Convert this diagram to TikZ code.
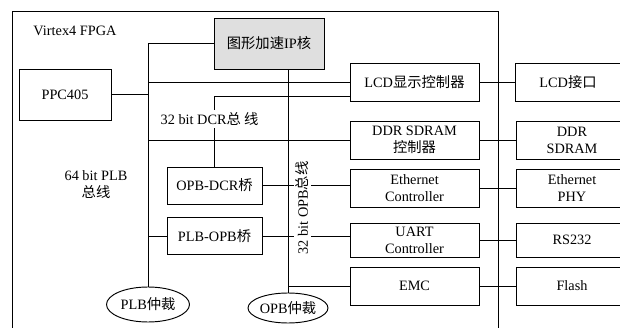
\documentclass[tikz,border=0pt]{standalone}
\usepackage{fontspec}
\setmainfont{Liberation Serif}
\newfontfamily\cjk{Noto Sans CJK SC}
\usetikzlibrary{shapes.geometric}
\begin{document}
\begin{tikzpicture}[x=1pt,y=-1pt,line width=0.95pt,
  font=\fontsize{14.3}{17}\selectfont,
  box/.style={draw,rectangle,inner sep=1pt,align=center,minimum width=129pt,minimum height=38pt},
  bridge/.style={draw,rectangle,inner sep=1pt,align=center,minimum width=95pt,minimum height=37pt},
  extbox/.style={draw,rectangle,inner sep=0pt,anchor=west,minimum width=114pt,minimum height=38pt},
  arb/.style={draw,ellipse,inner sep=0pt,align=center},
  lbl/.style={fill=white,inner sep=2pt,align=center}]
\useasboundingbox (0,0) rectangle (620,328);
% FPGA frame
\draw (12,340) |- (498,11) -- (498,340);
\node[anchor=west,inner sep=2pt] (fpgalbl) at (31,31) {Virtex4 FPGA};
% main blocks
\node[draw,fill=gray!25,minimum width=110pt,minimum height=51pt,inner sep=1pt] (ip) at (269,43.5) {{\cjk 图形加速}IP{\cjk 核}};
\node[draw,minimum width=92pt,minimum height=51pt,inner sep=1pt] (ppc) at (65,94.5) {PPC405};
\node[box] (lcdc) at (414.5,82) {LCD{\cjk 显示控制器}};
\node[box] (ddrc) at (414.5,140) {DDR SDRAM\\{\cjk 控制器}};
\node[box] (ethc) at (414.5,188) {Ethernet\\Controller};
\node[box,minimum height=34pt] (uart) at (414.5,240) {UART\\Controller};
\node[box] (emc) at (414.5,286) {EMC};
\node[bridge] (opbdcr) at (214.5,185.5) {OPB-DCR{\cjk 桥}};
\node[bridge] (plbopb) at (214.5,236) {PLB-OPB{\cjk 桥}};
\node[arb,minimum width=83pt,minimum height=35pt] (plbarb) at (148,304.5) {PLB{\cjk 仲裁}};
\node[arb,minimum width=80pt,minimum height=30pt] (opbarb) at (288,308) {OPB{\cjk 仲裁}};
% external boxes
\node[extbox] (lcdi) at (515,82) {};
\node (lcdit) at (568,82) {LCD{\cjk 接口}};
\node[extbox] (ddr) at (516,140) {};
\node[align=center] (ddrt) at (572,140) {DDR\\SDRAM};
\node[extbox] (phy) at (516,188) {};
\node[align=center] (phyt) at (572,188) {Ethernet\\PHY};
\node[extbox,minimum height=34pt] (rs) at (516,240) {};
\node (rst) at (572,240) {RS232};
\node[extbox] (flash) at (516,286) {};
\node (flasht) at (572,286) {Flash};
% PLB bus
\coordinate (plbtop) at (148,43.5);
\draw (ip.west) -- (plbtop) -- (plbarb.north);
\draw (ppc.east) -- (ppc.east -| plbtop);
\draw (lcdc.west) -- (lcdc.west -| plbtop);
\draw (ddrc.west) -- (ddrc.west -| plbtop);
\draw (plbopb.west -| plbtop) -- (plbopb.west);
% DCR bus
\draw ([yshift=-14pt]lcdc.west) -| (opbdcr.north);
\node[lbl] (dcrlbl) at (209.5,119) {32 bit DCR{\cjk 总 线}};
% OPB bus
\draw (ip.south -| opbarb.north) -- (opbarb.north);
\draw (opbdcr.east) -- (opbdcr.east -| ethc.west);
\draw (plbopb.east) -- (plbopb.east -| uart.west);
\draw (emc.west -| opbarb.north) -- (emc.west);
\node[lbl,rotate=90,inner sep=1.5pt] (opblbl) at (302.5,208) {32 bit OPB{\cjk 总线}};
\node[align=center] (plblbl) at (96,184.5) {64 bit PLB\\{\cjk 总线}};
% external links
\draw (lcdc.east) -- (lcdi.west);
\draw (ddrc.east) -- (ddr.west);
\draw (ethc.east) -- (phy.west);
\draw (uart.east) -- (rs.west);
\draw (emc.east) -- (flash.west);
\end{tikzpicture}
\end{document}
